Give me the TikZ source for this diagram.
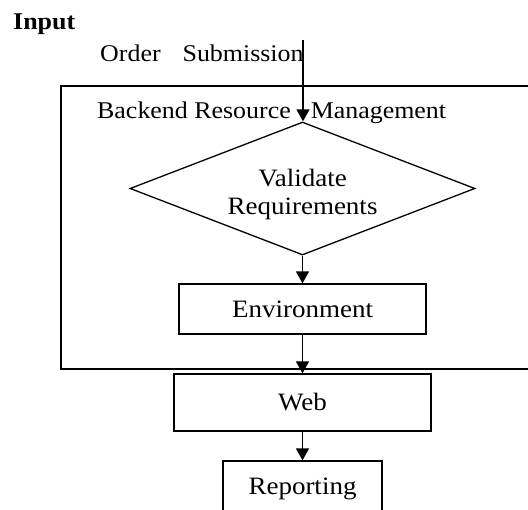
\documentclass[tikz,border=0pt]{standalone}
\usepackage{fontspec}
\setmainfont{Liberation Serif}[FakeStretch=1.08]
\usetikzlibrary{shapes.geometric,arrows.meta}
\tikzset{
  box/.style={draw, line width=1.3pt, rectangle, inner sep=0pt, font=\fontsize{25}{28}\selectfont},
  decision/.style={draw, line width=1.3pt, diamond, aspect=2.6, inner sep=0pt, align=center, font=\fontsize{25}{28}\selectfont},
  plain/.style={inner sep=0pt, font=\fontsize{24}{28}\selectfont},
  arr/.style={line width=1.4pt, -{Triangle[width=13pt,length=12pt]}},
}
\begin{document}
\begin{tikzpicture}[x=1pt,y=-1pt]
\useasboundingbox (0,0) rectangle (528,510);
\clip (0,0) rectangle (528,510);
\fill[white] (0,0) rectangle (528,510);
% outer box
\node[draw, line width=1.6pt, rectangle, inner sep=0pt, minimum width=490pt, minimum height=283pt, anchor=north west] (outer) at (60,85) {};
% texts
\node[plain, anchor=base west, font=\fontsize{24}{28}\selectfont\bfseries] (input) at (13,30) {Input};
\node[plain, anchor=base west] (order) at (100,62) {Order\hspace{22pt}Submission};
\node[plain, anchor=base west] (backend) at (97,119) {Backend Resource\hspace{20pt}Management};
% shapes
\node[decision, minimum width=345pt, minimum height=133pt] (val) at (302.5,188.5) {\rule{0pt}{30pt}Validate\\Requirements};
\node[box, minimum width=247pt, minimum height=50pt] (env) at (302.5,309) {Environment};
\node[box, minimum width=257pt, minimum height=57pt] (web) at (302.5,402.5) {Web};
\node[box, minimum width=159pt, minimum height=55pt] (rep) at (302.5,488.5) {Reporting};
% connectors
\coordinate (start) at (303,40);
\draw[arr] (start) -- (start |- val.north);
\draw[arr] (val.south) -- (env.north);
\draw[arr] (env.south) -- (web.north);
\draw[arr] (web.south) -- (rep.north);
\end{tikzpicture}
\end{document}
